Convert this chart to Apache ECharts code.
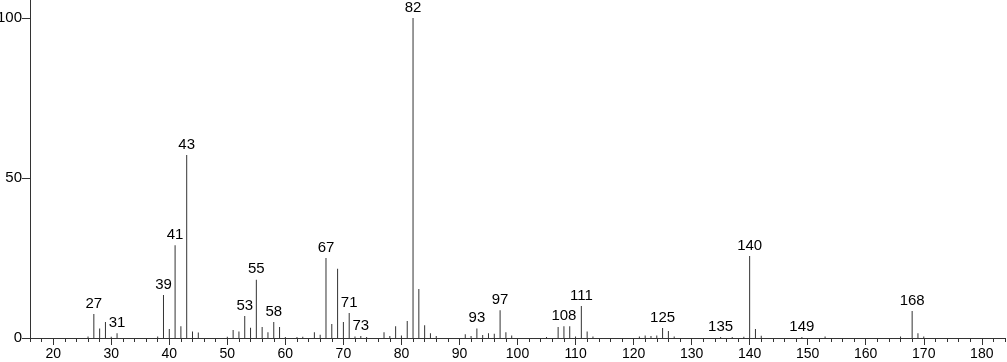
<!DOCTYPE html>
<html>
<head>
<meta charset="utf-8">
<script src="https://cdn.jsdelivr.net/npm/echarts@6/dist/echarts.min.js"></script>
<style>html,body{margin:0;padding:0;background:#fff}#c{width:1007px;height:362px}</style>
</head>
<body>
<div id="c"></div>
<script>
const mz =        [26, 27, 28, 29, 30, 31, 38, 39, 40, 41, 42, 43, 44, 45, 50, 51, 52, 53, 54, 55, 56, 57, 58, 59, 60, 62, 63, 65, 66, 67, 68, 69, 70, 71, 72, 73, 74, 77, 78, 79, 80, 81, 82, 83, 84, 85, 86, 91, 92, 93, 94, 95, 96, 97, 98, 99, 105, 107, 108, 109, 110, 111, 112, 113, 121, 122, 123, 124, 125, 126, 127, 135, 137, 139, 140, 141, 142, 149, 153, 166, 168, 169, 170];
const intensity = [0.5, 7.5, 3, 5, 0.4, 1.5, 0.5, 13.4, 2.8, 29, 3.7, 57.2, 2, 1.7, 0.4, 2.5, 2, 6.9, 3.2, 18.2, 3.4, 1.8, 5, 3.4, 0.3, 0.3, 0.4, 1.8, 1.0, 25, 4.4, 21.6, 5, 7.8, 0.5, 0.6, 0.3, 1.8, 0.6, 3.7, 0.8, 5.3, 100, 15.3, 4, 1.5, 0.6, 1.2, 0.6, 3, 0.9, 1.5, 1.3, 8.7, 1.8, 0.8, 0.3, 3.4, 3.7, 3.7, 0.5, 10, 2, 0.5, 0.5, 0.8, 0.6, 0.8, 3.1, 2.2, 0.5, 0.3, 0.3, 0.4, 25.6, 2.8, 0.7, 0.3, 0.5, 0.5, 8.4, 1.5, 0.5];
const labeledMz = [27, 31, 39, 41, 43, 53, 55, 58, 67, 71, 73, 82, 93, 97, 108, 111, 125, 135, 140, 149, 168];
const xTickLabels = [20, 30, 40, 50, 60, 70, 80, 90, 100, 110, 120, 130, 140, 150, 160, 170, 180];
const yTickLabels = [0, 50, 100];

const data = mz.map((m, i) => {
  const item = { value: [m, intensity[i]] };
  if (labeledMz.includes(m)) {
    item.label = { show: true, formatter: String(m) };
  }
  return item;
});

const chart = echarts.init(document.getElementById('c'), null, { renderer: 'canvas' });
const font = 'Liberation Sans, Arial, sans-serif';
const narrow = '"Liberation Sans Narrow", "Arial Narrow", Liberation Sans, sans-serif';
chart.setOption({
  animation: false,
  grid: { left: 30, right: 2, top: 0, bottom: 24, containLabel: false, outerBoundsMode: 'none' },
  xAxis: [
    {
      type: 'value', min: 16, max: 184,
      axisLine: { show: true, lineStyle: { color: '#333', width: 1 } },
      axisTick: { show: true, length: 7, inside: false, customValues: xTickLabels, lineStyle: { color: '#333' } },
      axisLabel: { show: true, customValues: xTickLabels, color: '#000', fontFamily: font, fontSize: 14, margin: 9 },
      splitLine: { show: false }
    },
    {
      type: 'value', min: 16, max: 184, interval: 2, position: 'bottom',
      axisLine: { show: false },
      axisTick: { show: true, length: 4, lineStyle: { color: '#333' } },
      axisLabel: { show: false },
      splitLine: { show: false }
    }
  ],
  yAxis: {
    type: 'value', min: 0, max: 105.6,
    axisLine: { show: true, lineStyle: { color: '#333', width: 1 } },
    axisTick: { show: true, length: 8, customValues: yTickLabels, lineStyle: { color: '#333' } },
    axisLabel: { show: true, customValues: yTickLabels, color: '#000', fontFamily: narrow, fontSize: 15, margin: 8 },
    splitLine: { show: false }
  },
  series: [{
    type: 'bar',
    xAxisIndex: 0,
    barWidth: 1,
    itemStyle: { color: '#333' },
    label: { show: false, position: 'top', distance: 3, color: '#000', fontFamily: narrow, fontSize: 15 },
    data: data
  }]
});
</script>
</body>
</html>
